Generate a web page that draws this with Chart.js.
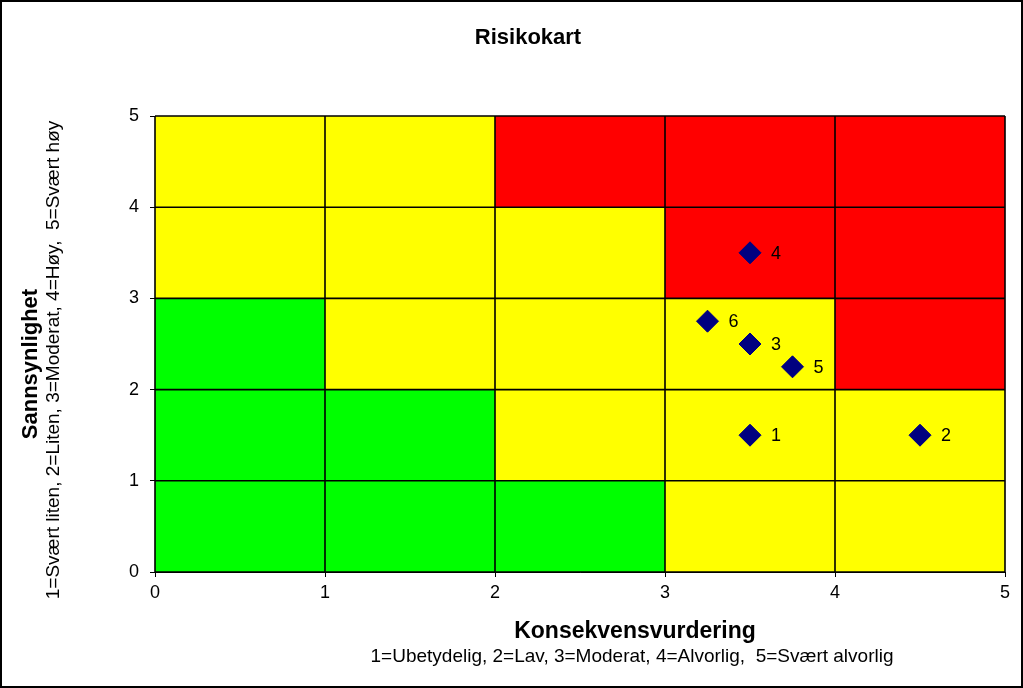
<!DOCTYPE html>
<html>
<head>
<meta charset="utf-8">
<style>
  html, body { margin: 0; padding: 0; background: #fff; }
  #wrap { width: 1023px; height: 688px; }
</style>
<script src="https://cdn.jsdelivr.net/npm/chart.js@4/dist/chart.umd.min.js"></script>
</head>
<body>
<div id="wrap"><canvas id="risk-chart" width="1023" height="688"></canvas></div>
<script>
// Risk points (konsekvens, sannsynlighet)
const pointX = [3.5, 4.5, 3.5, 3.5, 3.75, 3.25];
const pointY = [1.5, 1.5, 2.5, 3.5, 2.25, 2.75];
const pointLabels = ['1', '2', '3', '4', '5', '6'];

// Zone of each cell, bottom row first (G = green, Y = yellow, R = red)
const zoneRows = [
    ['G', 'G', 'G', 'Y', 'Y'],
    ['G', 'G', 'Y', 'Y', 'Y'],
    ['G', 'Y', 'Y', 'Y', 'R'],
    ['Y', 'Y', 'Y', 'R', 'R'],
    ['Y', 'Y', 'R', 'R', 'R'],
];

const titleText = 'Risikokart';
const xTitle = 'Konsekvensvurdering';
const xSubtitle = '1=Ubetydelig, 2=Lav, 3=Moderat, 4=Alvorlig,  5=Svært alvorlig';
const yTitle = 'Sannsynlighet';
const ySubtitle = '1=Svært liten, 2=Liten, 3=Moderat, 4=Høy,  5=Svært høy';

const zoneColors = { G: '#00ff00', Y: '#ffff00', R: '#ff0000' };
const FONT = '"Liberation Sans", Arial, sans-serif';

// Fill the cells behind the grid
const zonePlugin = {
    id: 'zones',
    beforeDraw(chart) {
        const { ctx, width, height } = chart;
        ctx.save();
        ctx.fillStyle = '#fff';
        ctx.fillRect(0, 0, width, height);
        ctx.restore();
    },
    beforeDatasetsDraw(chart) {
        const { ctx, scales: { x, y } } = chart;
        ctx.save();
        zoneRows.forEach((row, r) => {
            row.forEach((zone, c) => {
                const left = x.getPixelForValue(c);
                const right = x.getPixelForValue(c + 1);
                const top = y.getPixelForValue(r + 1);
                const bottom = y.getPixelForValue(r);
                ctx.fillStyle = zoneColors[zone];
                ctx.fillRect(left, top, right - left, bottom - top);
            });
        });
        // redraw grid on top of the cells
        ctx.strokeStyle = '#000';
        ctx.lineWidth = 1.6;
        for (let v = 0; v <= 5; v++) {
            const px = x.getPixelForValue(v);
            const py = y.getPixelForValue(v);
            ctx.beginPath();
            ctx.moveTo(px, y.getPixelForValue(0));
            ctx.lineTo(px, y.getPixelForValue(5));
            ctx.moveTo(x.getPixelForValue(0), py);
            ctx.lineTo(x.getPixelForValue(5), py);
            ctx.stroke();
        }
        ctx.restore();
    },
    afterDatasetsDraw(chart) {
        const { ctx, scales: { x, y } } = chart;
        ctx.save();
        ctx.fillStyle = '#000';
        ctx.font = '18px ' + FONT;
        ctx.textAlign = 'left';
        ctx.textBaseline = 'middle';
        pointLabels.forEach((label, i) => {
            ctx.fillText(label, x.getPixelForValue(pointX[i]) + 21, y.getPixelForValue(pointY[i]) + 1);
        });
        ctx.restore();
    },
    afterDraw(chart) {
        const { ctx, width, height } = chart;
        ctx.save();
        ctx.fillStyle = '#000';
        ctx.textAlign = 'center';
        ctx.textBaseline = 'middle';

        ctx.font = 'bold 22px ' + FONT;
        ctx.fillText(titleText, 528, 38);

        ctx.font = 'bold 23px ' + FONT;
        ctx.fillText(xTitle, 635, 632);
        ctx.font = '19px ' + FONT;
        ctx.fillText(xSubtitle, 632, 657);

        ctx.translate(31, 364);
        ctx.rotate(-Math.PI / 2);
        ctx.font = 'bold 22px ' + FONT;
        ctx.fillText(yTitle, 0, 0);
        ctx.font = '19px ' + FONT;
        ctx.fillText(ySubtitle, 4, 23);
        ctx.restore();

        // outer frame
        ctx.save();
        ctx.strokeStyle = '#000';
        ctx.lineWidth = 2;
        ctx.strokeRect(1, 1, width - 2, height - 2);
        ctx.restore();
    },
};

new Chart(document.getElementById('risk-chart'), {
    type: 'scatter',
    data: {
        datasets: [{
            label: 'Risiko',
            data: pointX.map((v, i) => ({ x: v, y: pointY[i] })),
            pointStyle: 'rectRot',
            radius: 11,
            hoverRadius: 11,
            backgroundColor: '#000080',
            borderColor: '#000080',
            borderWidth: 1,
        }],
    },
    options: {
        responsive: false,
        animation: false,
        layout: { padding: { left: 0, right: 18, top: 116, bottom: 86 } },
        plugins: {
            legend: { display: false },
            tooltip: { enabled: false },
        },
        scales: {
            x: {
                type: 'linear',
                min: 0,
                max: 5,
                afterFit: (scale) => { scale.height = 30; },
                ticks: { stepSize: 1, color: '#000', padding: 5, font: { family: FONT, size: 18 } },
                grid: { color: '#000', tickColor: '#000', tickLength: 5, drawOnChartArea: false },
                border: { color: '#000', width: 1 },
            },
            y: {
                type: 'linear',
                min: 0,
                max: 5,
                afterFit: (scale) => { scale.width = 155; },
                ticks: { stepSize: 1, color: '#000', padding: 11, font: { family: FONT, size: 18 } },
                grid: { color: '#000', tickColor: '#000', tickLength: 5, drawOnChartArea: false },
                border: { color: '#000', width: 1 },
            },
        },
    },
    plugins: [zonePlugin],
});
</script>
</body>
</html>
